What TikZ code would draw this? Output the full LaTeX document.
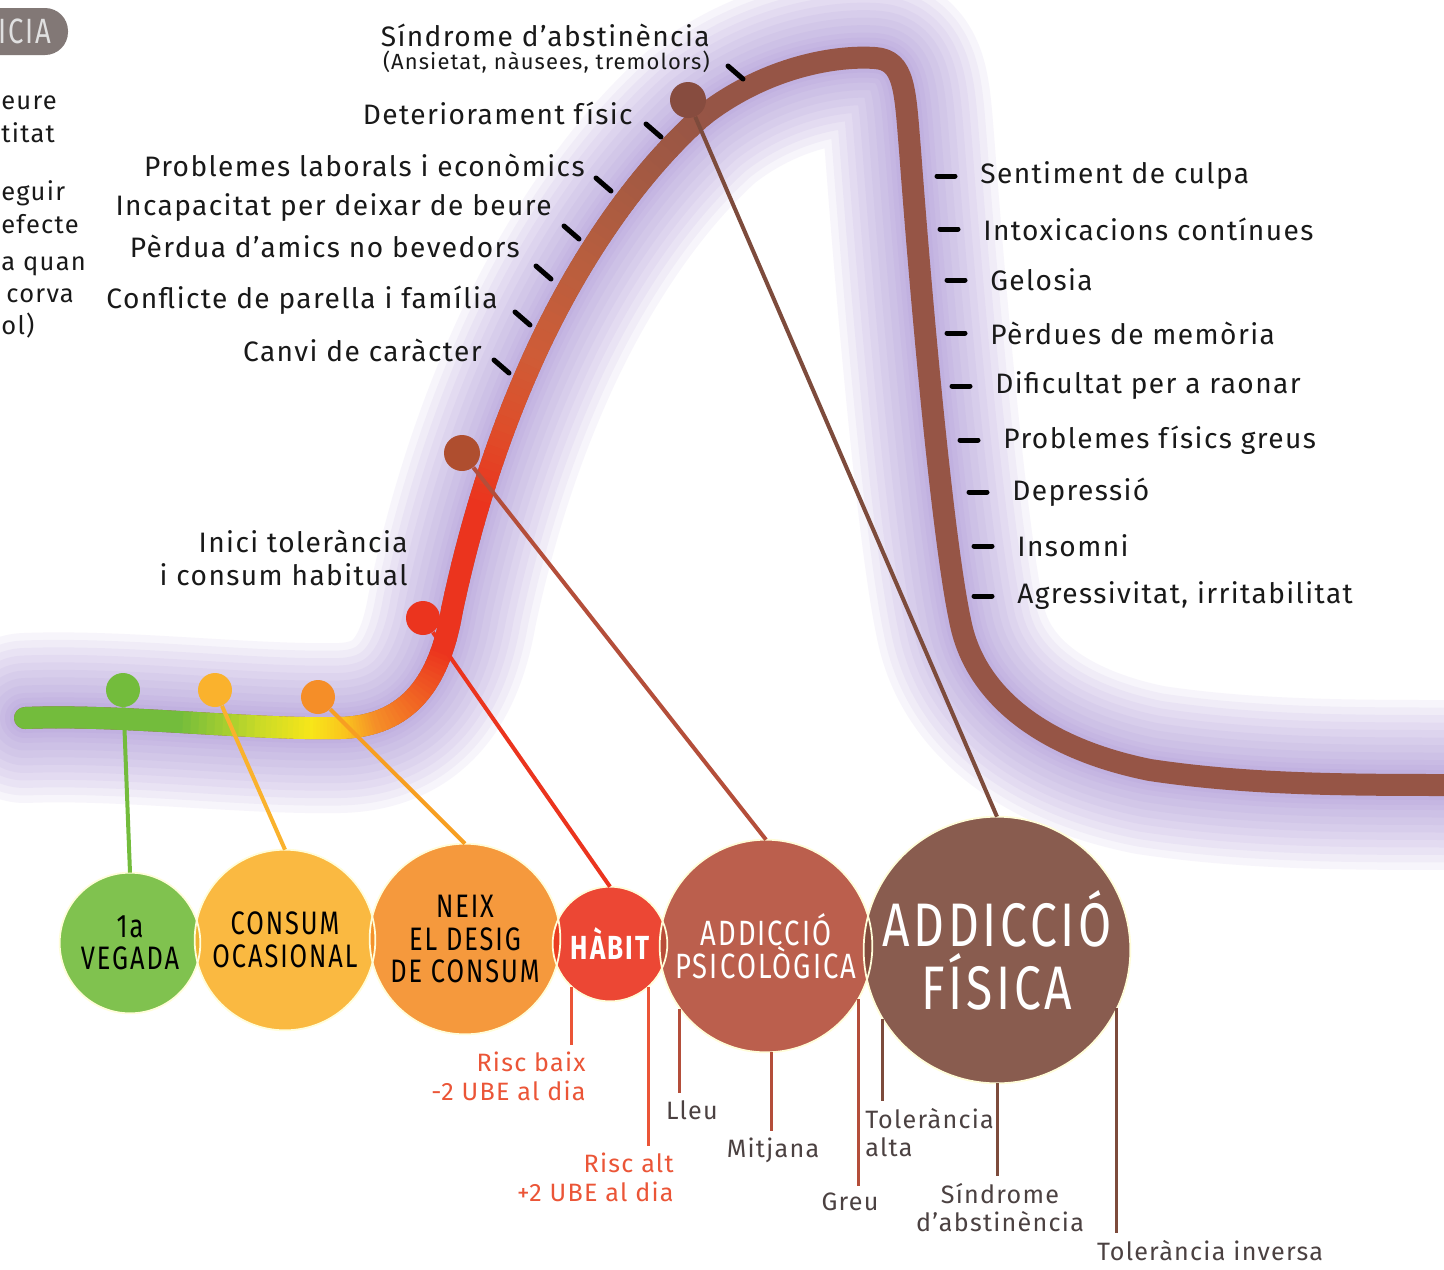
\documentclass[tikz,border=0pt]{standalone}
\usepackage{fontspec}
\setmainfont{Fira Sans}[LetterSpace=5]
\newfontfamily\stagefont{Fira Sans}[FakeStretch=0.78,LetterSpace=6]
\usetikzlibrary{calc}

\definecolor{glowc}{RGB}{150,120,205}
\definecolor{grnc}{RGB}{115,188,60}
\definecolor{ygrc}{RGB}{200,218,40}
\definecolor{ylwc}{RGB}{248,230,25}
\definecolor{yorc}{RGB}{250,195,30}
\definecolor{ambc}{RGB}{250,178,45}
\definecolor{orgc}{RGB}{245,142,40}
\definecolor{orrc}{RGB}{240,95,35}
\definecolor{redc}{RGB}{235,52,30}
\definecolor{rd1c}{RGB}{222,78,42}
\definecolor{rd2c}{RGB}{206,92,55}
\definecolor{rd3c}{RGB}{185,94,62}
\definecolor{rd4c}{RGB}{165,90,66}
\definecolor{brnc}{RGB}{150,85,70}
\definecolor{rstc}{RGB}{180,78,58}
\definecolor{dbrc}{RGB}{125,75,60}
\definecolor{riskc}{RGB}{235,85,55}
\definecolor{subtxt}{RGB}{75,65,65}
\definecolor{badgec}{RGB}{130,120,118}

\newcommand\lblfont{\fontsize{16}{19}\selectfont}
\newcommand\edgefont{\fontsize{14.5}{17}\selectfont}
\newcommand\smallfont{\fontsize{12.5}{14}\selectfont}
\newcommand\subfont{\fontsize{14.3}{16.2}\selectfont}

\def\curvepath{(25,718) .. controls (120,714) and (250,730) .. (340,728)
  .. controls (410,726) and (440,680) .. (452,610)
  .. controls (470,525) and (495,445) .. (528,370)
  .. controls (562,292) and (620,190) .. (700,118)
  .. controls (760,70) and (830,55) .. (875,58)
  .. controls (905,60) and (905,90) .. (910,150)
  .. controls (925,350) and (945,550) .. (960,620)
  .. controls (975,700) and (1050,750) .. (1150,770)
  .. controls (1250,785) and (1350,785) .. (1460,785)}

\tikzset{
  curve/.style={line width=0.44cm, line join=round},
  glow/.style={draw=glowc, line width=#1, opacity=0.07, line cap=round, line join=round},
  stage/.style={circle, inner sep=0pt, fill opacity=0.9, text opacity=1, align=center,
    minimum size=#1, font=\stagefont\fontsize{18.5}{18.5}\selectfont},
  ring/.style={draw=white!85!yellow, line width=0.035cm},
  dot/.style={circle, inner sep=0pt, minimum size=#1},
  stem/.style={line width=0.08cm},
  tick/.style={line width=0.1cm, line cap=round},
  lbl/.style={inner sep=0pt, font=\lblfont, text=black!90},
  sublbl/.style={inner sep=0pt, font=\subfont, text=subtxt, align=center},
  leg/.style={line width=0.06cm, shorten >=0.14cm},
}

\begin{document}
\begin{tikzpicture}[x=0.02cm, y=-0.02cm]
\fill[white] (0,0) rectangle (1444,1269);
\useasboundingbox (0,0) rectangle (1444,1269);

% halo round the curve
\foreach \w in {3.4,3.1,2.8,2.5,2.2,1.9,1.6,1.3,1.0,0.8,0.6}
  \draw[glow=\w cm] \curvepath;

% the curve, coloured by arc length
\draw[curve, brnc, line cap=round] \curvepath;
\fill[grnc] (25,718) circle[radius=0.22cm];
\foreach \sa/\sb/\ca/\cb in {0/150/grnc/grnc, 150/230/grnc/ygrc, 230/285/ygrc/ylwc,
    285/320/ylwc/yorc, 320/350/yorc/orgc, 350/400/orgc/orrc, 400/450/orrc/redc,
    450/600/redc/redc, 600/680/redc/rd1c, 680/760/rd1c/rd2c, 760/860/rd2c/rd3c,
    860/960/rd3c/rd4c, 960/1060/rd4c/brnc}
  \foreach \k in {0,...,9}{
    \pgfmathsetmacro\seglen{(\sb-\sa)*0.05691+1}
    \pgfmathsetmacro\segph{\seglen+2000-(\sa+(\sb-\sa)*\k/10)*0.5691}
    \pgfmathtruncatemacro\pc{10*\k}
    \draw[curve, line cap=butt, color=\cb!\pc!\ca,
      dash pattern=on \seglen pt off 2000pt, dash phase=\segph pt] \curvepath;
  }

% stages
\node[stage=2.8cm, fill=grnc] (c1) at (130,943) {1a\\VEGADA};
\node[stage=3.6cm, fill=ambc] (c2) at (285,940) {CONSUM\\OCASIONAL};
\node[stage=3.8cm, fill=orgc] (c3) at (465,939) {NEIX\\EL DESIG\\DE CONSUM};
\node[stage=2.28cm, fill=redc, text=white, font=\stagefont\bfseries\fontsize{19}{19}\selectfont] (c4) at (610,944) {HÀBIT};
\node[stage=4.24cm, fill=rstc, text=white, font=\stagefont\fontsize{20}{19}\selectfont] (c5) at (766,946) {ADDICCIÓ\\PSICOLÒGICA};
\node[stage=5.32cm, fill=dbrc, text=white, font=\stagefont\fontsize{35}{36}\selectfont] (c6) at (997,950) {ADDICCIÓ\\FÍSICA};
\foreach \st in {c1,c2,c3,c4,c5,c6}
  \draw[ring] let \p1=($(\st.north)-(\st.center)$), \n1={veclen(\x1,\y1)} in
    (\st.center) circle[radius=\n1];

% dots on the curve
\node[dot=0.68cm, fill=grnc] (d1) at (123,690) {};
\node[dot=0.68cm, fill=ambc] (d2) at (215,690) {};
\node[dot=0.68cm, fill=orgc] (d3) at (318,697) {};
\node[dot=0.68cm, fill=redc] (d4) at (423,618) {};
\node[dot=0.72cm, fill=rd2c!85!black] (d5) at (462,453) {};
\node[dot=0.72cm, fill=brnc!90!black] (d6) at (688,100) {};
\draw[stem, grnc] (d1) -- (c1.north);
\draw[stem, ambc] (d2) -- (c2.north);
\draw[stem, orgc!85!yellow] (d3) -- (c3.north);
\draw[stem, redc] (d4) -- (c4.north);
\draw[stem, rstc] (d5) -- (c5.north);
\draw[stem, dbrc] (d6) -- (c6.north);

% left labels
\node[lbl, anchor=east] (l1) at (710,35) {Síndrome d’abstinència};
\node[lbl, anchor=east, font=\smallfont] (l1b) at (710,62) {(Ansietat, nàusees, tremolors)};
\node[lbl, anchor=east] (l2) at (633,113) {Deteriorament físic};
\node[lbl, anchor=east] (l3) at (585,165) {Problemes laborals i econòmics};
\node[lbl, anchor=east] (l4) at (552,208) {Incapacitat per deixar de beure};
\node[lbl, anchor=east] (l5) at (520,246) {Pèrdua d’amics no bevedors};
\node[lbl, anchor=east] (l6) at (498,300) {Conflicte de parella i família};
\node[lbl, anchor=east] (l7) at (482,350) {Canvi de caràcter};
\node[lbl, anchor=east, align=right] (l8) at (408,558) {Inici tolerància\\i consum habitual};
\foreach \n/\dx/\dy in {l1b/18/4, l2/13/11, l3/11/13, l4/12/18, l5/16/20, l6/17/12, l7/12/10}
  \draw[tick] ($(\n.east)+(\dx,\dy)$) -- ++(15,13);

% right labels
\node[lbl, anchor=west] (r1) at (980,176) {Sentiment de culpa};
\node[lbl, anchor=west] (r2) at (983,229) {Intoxicacions contínues};
\node[lbl, anchor=west] (r3) at (990,280) {Gelosia};
\node[lbl, anchor=west] (r4) at (990,333) {Pèrdues de memòria};
\node[lbl, anchor=west] (r5) at (995,386) {Dificultat per a raonar};
\node[lbl, anchor=west] (r6) at (1003,440) {Problemes físics greus};
\node[lbl, anchor=west] (r7) at (1012,492) {Depressió};
\node[lbl, anchor=west] (r8) at (1017,546) {Insomni};
\node[lbl, anchor=west] (r9) at (1017,596) {Agressivitat, irritabilitat};
\foreach \n in {r1,r2,r3,r4,r5,r6,r7,r8,r9}
  \draw[tick] ($(\n.west)+(-43,0)$) -- ++(18,0);

% cut-off text at the left edge
\fill[badgec, rounded corners=0.46cm] (-60,8) rectangle (68,55);
\node[inner sep=0pt, anchor=east, text=white!88!black, font=\stagefont\fontsize{20}{20}\selectfont] (bdg) at (52,31) {ICIA};
\node[lbl, anchor=west, font=\edgefont] (e1) at (1,103) {eure};
\node[lbl, anchor=west, font=\edgefont] (e2) at (1,133) {titat};
\node[lbl, anchor=west, font=\edgefont] (e3) at (1,193) {eguir};
\node[lbl, anchor=west, font=\edgefont] (e4) at (1,224) {efecte};
\node[lbl, anchor=west, font=\edgefont] (e5) at (1,266) {a quan};
\node[lbl, anchor=west, font=\edgefont] (e6) at (6,296) {corva};
\node[lbl, anchor=west, font=\edgefont] (e7) at (1,326) {ol)};

% legs below the stages
\node[sublbl, text=riskc, anchor=north east, align=right] (rb) at (586,1052) {Risc baix\\-2 UBE al dia};
\node[sublbl, text=riskc, anchor=north east, align=right] (ra) at (674,1153) {Risc alt\\+2 UBE al dia};
\node[sublbl, anchor=north] (lleu) at (692,1100) {Lleu};
\node[sublbl, anchor=north] (mitj) at (773,1138) {Mitjana};
\node[sublbl, anchor=north] (greu) at (850,1193) {Greu};
\node[sublbl, anchor=north west, align=left] (talt) at (865,1108) {Tolerància\\alta};
\node[sublbl, anchor=north] (sind) at (1000,1183) {Síndrome\\d’abstinència};
\node[sublbl, anchor=north] (tinv) at (1210,1240) {Tolerància inversa};
\draw[leg, riskc] (c4.228) -- (c4.228 |- rb.north);
\draw[leg, riskc] (c4.312) -- (c4.312 |- ra.north);
\draw[leg, rstc] (c5.216) -- (c5.216 |- lleu.north);
\draw[leg, rstc] (c5.273) -- (c5.273 |- mitj.north);
\draw[leg, rstc] (c5.330) -- (c5.330 |- greu.north);
\draw[leg, dbrc] (c6.211) -- (c6.211 |- talt.north);
\draw[leg, dbrc] (c6.south) -- (c6.south |- sind.north);
\draw[leg, dbrc] (c6.334) -- (c6.334 |- tinv.north);
\end{tikzpicture}
\end{document}
